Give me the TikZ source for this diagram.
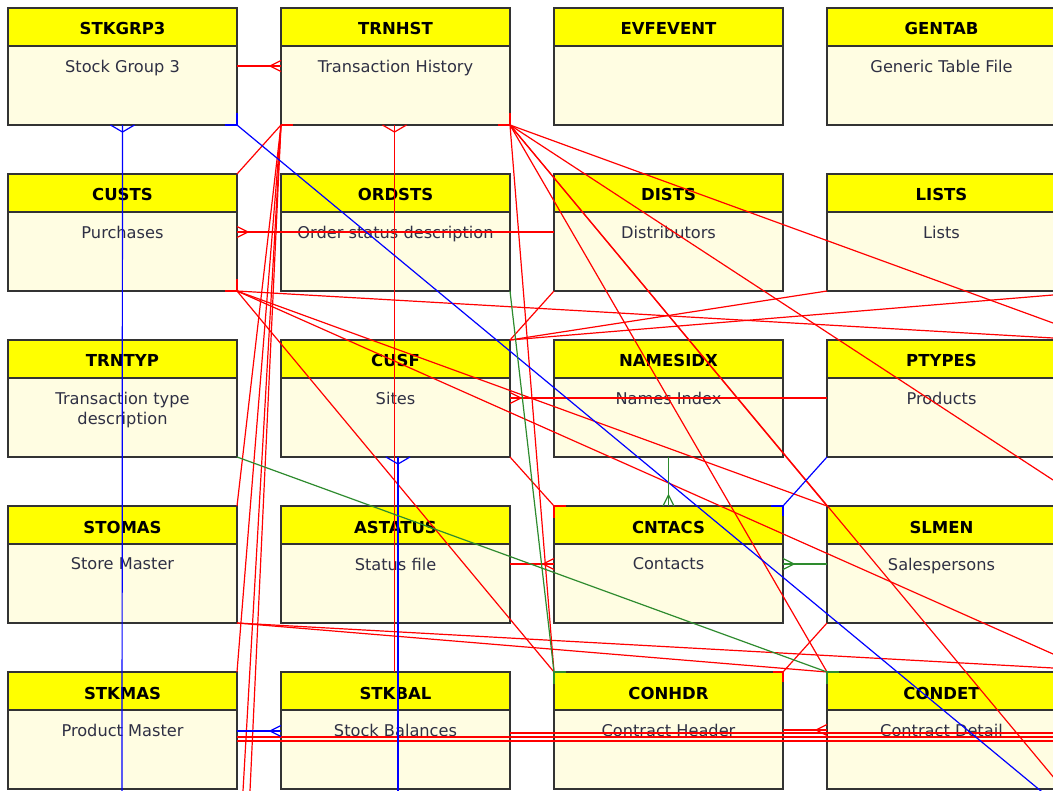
\documentclass[tikz,border=0pt]{standalone}
\usepackage{fontspec}
\setmainfont{DejaVu Sans}
\usetikzlibrary{positioning,decorations.markings}
\definecolor{hdryellow}{HTML}{FFFF00}
\definecolor{bodyyellow}{HTML}{FFFDE2}
\definecolor{edgegray}{HTML}{333333}
\definecolor{desctext}{HTML}{2F3044}
\definecolor{relred}{HTML}{FF0000}
\definecolor{relblue}{HTML}{0000FF}
\definecolor{relgreen}{HTML}{2E8B2E}
\begin{document}
\begin{tikzpicture}[x=1pt, y=-1pt,
	hdr/.style={draw=edgegray, line width=1.4pt, fill=hdryellow, anchor=north west, minimum width=229pt, minimum height=38pt, inner sep=0pt, outer sep=0pt, text height=16pt, text depth=0pt, font=\fontsize{16.5}{19}\selectfont\bfseries},
	bdy/.style={draw=edgegray, line width=1.4pt, fill=bodyyellow, minimum width=229pt, minimum height=79pt, inner sep=0pt, outer sep=0pt},
	desc/.style={anchor=north, yshift=-13.5pt, inner sep=0pt, align=center, text=desctext, font=\fontsize{16.2}{20.5}\selectfont},
	redrel/.style={draw=relred, line width=1.2pt},
	bluerel/.style={draw=relblue, line width=1.2pt},
	greenrel/.style={draw=relgreen, line width=1.2pt},
	stub/.style={line width=2.2pt},
	crowend/.style={postaction={decorate, decoration={markings, mark=at position 1 with {\draw[line width=1.2pt, #1] (-11pt,0pt) -- (0pt,5.5pt); \draw[line width=1.2pt, #1] (-11pt,0pt) -- (0pt,-5.5pt);}}}},
	crowstart/.style={postaction={decorate, decoration={markings, mark=at position 0 with {\draw[line width=1.2pt, #1] (11pt,0pt) -- (0pt,5.5pt); \draw[line width=1.2pt, #1] (11pt,0pt) -- (0pt,-5.5pt);}}}},
	crowwide/.style={postaction={decorate, decoration={markings, mark=at position 0 with {\draw[line width=1.2pt, #1] (7pt,0pt) -- (0pt,12pt); \draw[line width=1.2pt, #1] (7pt,0pt) -- (0pt,-12pt);}}}}]
	\useasboundingbox (0,0) rectangle (1053,791);
	\clip (0,0) rectangle (1053,791);
	\fill[white] (0,0) rectangle (1053,791);

	% Row 1
	\node[hdr] (stkgrp3) at (8,8) {STKGRP3};
	\node[bdy, below=0pt of stkgrp3, label={[desc]north:Stock Group 3}] (stkgrp3-b) {};
	\node[hdr] (trnhst) at (281,8) {TRNHST};
	\node[bdy, below=0pt of trnhst, label={[desc]north:Transaction History}] (trnhst-b) {};
	\node[hdr] (evfevent) at (554,8) {EVFEVENT};
	\node[bdy, below=0pt of evfevent] (evfevent-b) {};
	\node[hdr] (gentab) at (827,8) {GENTAB};
	\node[bdy, below=0pt of gentab, label={[desc]north:Generic Table File}] (gentab-b) {};

	% Row 2
	\node[hdr] (custs) at (8,174) {CUSTS};
	\node[bdy, below=0pt of custs, label={[desc]north:Purchases}] (custs-b) {};
	\node[hdr] (ordsts) at (281,174) {ORDSTS};
	\node[bdy, below=0pt of ordsts, label={[desc]north:Order status description}] (ordsts-b) {};
	\node[hdr] (dists) at (554,174) {DISTS};
	\node[bdy, below=0pt of dists, label={[desc]north:Distributors}] (dists-b) {};
	\node[hdr] (lists) at (827,174) {LISTS};
	\node[bdy, below=0pt of lists, label={[desc]north:Lists}] (lists-b) {};

	% Row 3
	\node[hdr] (trntyp) at (8,340) {TRNTYP};
	\node[bdy, below=0pt of trntyp, label={[desc]north:{Transaction type\\description}}] (trntyp-b) {};
	\node[hdr] (cusf) at (281,340) {CUSF};
	\node[bdy, below=0pt of cusf, label={[desc]north:Sites}] (cusf-b) {};
	\node[hdr] (namesidx) at (554,340) {NAMESIDX};
	\node[bdy, below=0pt of namesidx, label={[desc]north:Names Index}] (namesidx-b) {};
	\node[hdr] (ptypes) at (827,340) {PTYPES};
	\node[bdy, below=0pt of ptypes, label={[desc]north:Products}] (ptypes-b) {};

	% Row 4
	\node[hdr] (stomas) at (8,506) {STOMAS};
	\node[bdy, below=0pt of stomas, label={[desc]north:Store Master}] (stomas-b) {};
	\node[hdr] (astatus) at (281,506) {ASTATUS};
	\node[bdy, below=0pt of astatus, label={[desc]north:Status file}] (astatus-b) {};
	\node[hdr] (cntacs) at (554,506) {CNTACS};
	\node[bdy, below=0pt of cntacs, label={[desc]north:Contacts}] (cntacs-b) {};
	\node[hdr] (slmen) at (827,506) {SLMEN};
	\node[bdy, below=0pt of slmen, label={[desc]north:Salespersons}] (slmen-b) {};

	% Row 5
	\node[hdr] (stkmas) at (8,672) {STKMAS};
	\node[bdy, below=0pt of stkmas, label={[desc]north:Product Master}] (stkmas-b) {};
	\node[hdr] (stkbal) at (281,672) {STKBAL};
	\node[bdy, below=0pt of stkbal, label={[desc]north:Stock Balances}] (stkbal-b) {};
	\node[hdr] (conhdr) at (554,672) {CONHDR};
	\node[bdy, below=0pt of conhdr, label={[desc]north:Contract Header}] (conhdr-b) {};
	\node[hdr] (condet) at (827,672) {CONDET};
	\node[bdy, below=0pt of condet, label={[desc]north:Contract Detail}] (condet-b) {};

	% Ends of links that leave the view
	\coordinate (offa1) at (243,791);
	\coordinate (offa2) at (250,791);
	\coordinate (offb1) at (1065,791);
	\coordinate (offb2) at (1053,480);
	\coordinate (offb3) at (1053,323);
	\coordinate (offc1) at (1053,338);
	\coordinate (offc2) at (1053,654);
	\coordinate (offd1) at (1053,295);
	\coordinate (offe1) at (1053,668);
	\coordinate (offk1) at (1053,733);
	\coordinate (offk2) at (1053,737);
	\coordinate (offk3) at (1053,741);
	\coordinate (offs1) at (122,791);
	\coordinate (offs2) at (1053,801);
	\coordinate (offs3) at (398,791);

	% Red links
	\draw[redrel, crowend=relred] ([yshift=-20pt]stkgrp3-b.north east) -- ([yshift=-20pt]trnhst-b.north west);
	\draw[redrel, crowwide=relred] ([xshift=-1pt]trnhst-b.south) -- ([xshift=-1pt]stkbal.north);
	\draw[redrel, crowstart=relred] ([yshift=-20pt]custs-b.north east) -- ([yshift=-20pt]dists-b.north west);
	\draw[redrel, crowstart=relred] ([yshift=-20pt]cusf-b.north east) -- ([yshift=-20pt]ptypes-b.north west);
	\draw[redrel, crowend=relred] ([yshift=-20pt]astatus-b.north east) -- ([yshift=-20pt]cntacs-b.north west);
	\draw[redrel, crowend=relred] ([yshift=-20pt]conhdr-b.north east) -- ([yshift=-20pt]condet-b.north west);
	\draw[redrel] (trnhst-b.south west) -- (custs.north east);
	\draw[redrel] (trnhst-b.south west) -- (stomas.north east);
	\draw[redrel] (trnhst-b.south west) -- (stkmas.north east);
	\draw[redrel] (trnhst-b.south west) -- (offa1);
	\draw[redrel] (trnhst-b.south west) -- (offa2);
	\draw[redrel] (trnhst-b.south east) -- (conhdr.north west);
	\draw[redrel] (trnhst-b.south east) -- (condet.north west);
	\draw[redrel] (trnhst-b.south east) -- (slmen.north west);
	\draw[redrel] (trnhst-b.south east) -- (offb1);
	\draw[redrel] (trnhst-b.south east) -- (offb2);
	\draw[redrel] (trnhst-b.south east) -- (offb3);
	\draw[redrel] (custs-b.south east) -- (offc1);
	\draw[redrel] (custs-b.south east) -- (slmen.north west);
	\draw[redrel] (custs-b.south east) -- (offc2);
	\draw[redrel] (custs-b.south east) -- (conhdr.north west);
	\draw[redrel] (cusf.north east) -- (dists-b.south west);
	\draw[redrel] (cusf.north east) -- (lists-b.south west);
	\draw[redrel] (cusf.north east) -- (offd1);
	\draw[redrel] (cusf-b.south east) -- (cntacs.north west);
	\draw[redrel] (stomas-b.south east) -- (condet.north west);
	\draw[redrel] (stomas-b.south east) -- (offe1);
	\draw[redrel] (slmen-b.south west) -- (conhdr.north east);
	\draw[redrel] ([yshift=-23pt]stkbal-b.north east) -- (offk1);
	\draw[redrel] ([yshift=-27pt]stkmas-b.north east) -- (offk2);
	\draw[redrel] ([yshift=-31pt]stkmas-b.north east) -- (offk3);

	% Blue links
	\draw[bluerel, crowwide=relblue] (stkgrp3-b.south) -- (offs1);
	\draw[bluerel] (stkgrp3-b.south east) -- (offs2);
	\draw[bluerel, crowwide=relblue] ([xshift=2.5pt]cusf-b.south) -- (offs3);
	\draw[bluerel, crowend=relblue] ([yshift=-21pt]stkmas-b.north east) -- ([yshift=-21pt]stkbal-b.north west);
	\draw[bluerel] (cntacs.north east) -- (ptypes-b.south west);

	% Green links
	\draw[greenrel] (trntyp-b.south east) -- (condet.north west);
	\draw[greenrel] (ordsts-b.south east) -- (conhdr.north west);
	\draw[greenrel, crowend=relgreen] (namesidx-b.south) -- (cntacs.north);
	\draw[greenrel, crowstart=relgreen] ([yshift=-20pt]cntacs-b.north east) -- ([yshift=-20pt]slmen-b.north west);

	% One-ends at the corners
	\draw[relblue, stub] ([xshift=-12pt]stkgrp3-b.south east) -- (stkgrp3-b.south east) -- ([yshift=12pt]stkgrp3-b.south east);
	\draw[relred, stub] (trnhst-b.south west) -- ([xshift=12pt]trnhst-b.south west);
	\draw[relred, stub] ([xshift=-12pt]trnhst-b.south east) -- (trnhst-b.south east) -- ([yshift=12pt]trnhst-b.south east);
	\draw[relred, stub] ([xshift=-12pt]custs-b.south east) -- (custs-b.south east) -- ([yshift=12pt]custs-b.south east);
	\draw[relblue, stub] ([xshift=-12pt]cntacs.north east) -- (cntacs.north east) -- ([yshift=-10pt]cntacs.north east);
	\draw[relred, stub] ([xshift=12pt]cntacs.north west) -- (cntacs.north west) -- ([yshift=-12pt]cntacs.north west);
	\draw[relgreen, stub] ([xshift=12pt]conhdr.north west) -- (conhdr.north west) -- ([yshift=-12pt]conhdr.north west);
	\draw[relred, stub] ([xshift=-10pt]conhdr.north east) -- (conhdr.north east) -- ([yshift=-10pt]conhdr.north east);
	\draw[relgreen, stub] ([xshift=12pt]condet.north west) -- (condet.north west) -- ([yshift=-12pt]condet.north west);
\end{tikzpicture}
\end{document}
